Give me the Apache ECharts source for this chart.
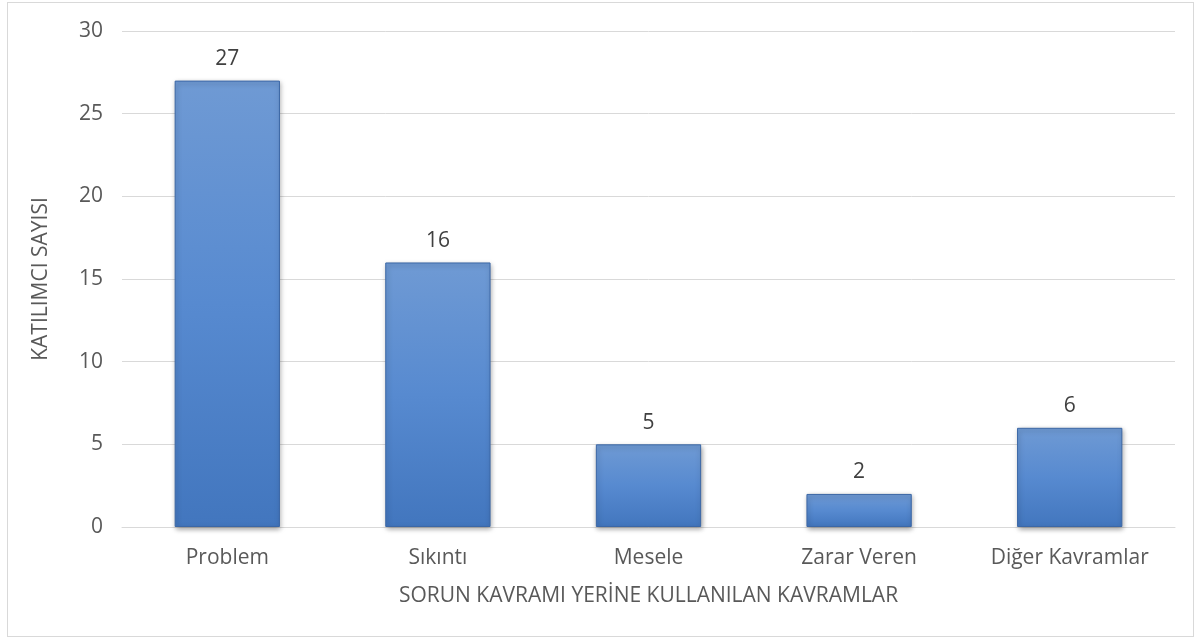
<!DOCTYPE html>
<html>
<head>
<meta charset="utf-8">
<script src="https://cdn.jsdelivr.net/npm/echarts@6/dist/echarts.min.js"></script>
<style>
  html, body { margin: 0; padding: 0; background: #fff; }
  #frame {
    position: absolute; left: 7px; top: 2px; width: 1187px; height: 635px;
    border: 1px solid #d9d9d9; box-sizing: border-box;
  }
  #chart { position: absolute; left: 0; top: 0; width: 1202px; height: 644px; }
</style>
</head>
<body>
<div id="frame"></div>
<div id="chart"></div>
<script>
// kategoriler ve değerler
const categories = ['Problem', 'Sıkıntı', 'Mesele', 'Zarar Veren', 'Diğer Kavramlar']
const counts = [27, 16, 5, 2, 6]
const yTicks = [0, 5, 10, 15, 20, 25, 30]

const chart = echarts.init(document.getElementById('chart'))

const barColor = new echarts.graphic.LinearGradient(0, 0, 0, 1, [
  { offset: 0, color: '#6f9ad4' },
  { offset: 0.5, color: '#578ad0' },
  { offset: 1, color: '#4276be' }
])

chart.setOption({
  animation: false,
  textStyle: { fontFamily: '"Open Sans", "Noto Sans", sans-serif' },
  grid: { left: 122, right: 27, top: 31, bottom: 117 },
  xAxis: {
    type: 'category',
    data: categories,
    name: 'SORUN KAVRAMI YERİNE KULLANILAN KAVRAMLAR',
    nameLocation: 'middle',
    nameGap: 59,
    nameTextStyle: { fontSize: 21, color: '#595959' },
    axisLine: { lineStyle: { color: '#d9d9d9' } },
    axisTick: { show: false },
    axisLabel: { fontSize: 21, color: '#595959', margin: 21 }
  },
  yAxis: {
    type: 'value',
    min: yTicks[0],
    max: yTicks[yTicks.length - 1],
    interval: 5,
    name: 'KATILIMCI SAYISI',
    nameLocation: 'middle',
    nameGap: 70,
    nameTextStyle: { fontSize: 21, color: '#595959' },
    axisLine: { show: false },
    axisTick: { show: false },
    axisLabel: { fontSize: 21, color: '#595959', margin: 19 },
    splitLine: { lineStyle: { color: '#d9d9d9' } }
  },
  series: [{
    type: 'bar',
    data: counts,
    barWidth: '50%',
    itemStyle: {
      color: barColor,
      borderColor: '#3b67a6',
      borderWidth: 1,
      shadowColor: 'rgba(0,0,0,0.35)',
      shadowBlur: 5,
      shadowOffsetX: 1,
      shadowOffsetY: 2
    },
    label: {
      show: true,
      position: 'top',
      distance: 11,
      fontSize: 21,
      color: '#404040'
    }
  }]
})
</script>
</body>
</html>
